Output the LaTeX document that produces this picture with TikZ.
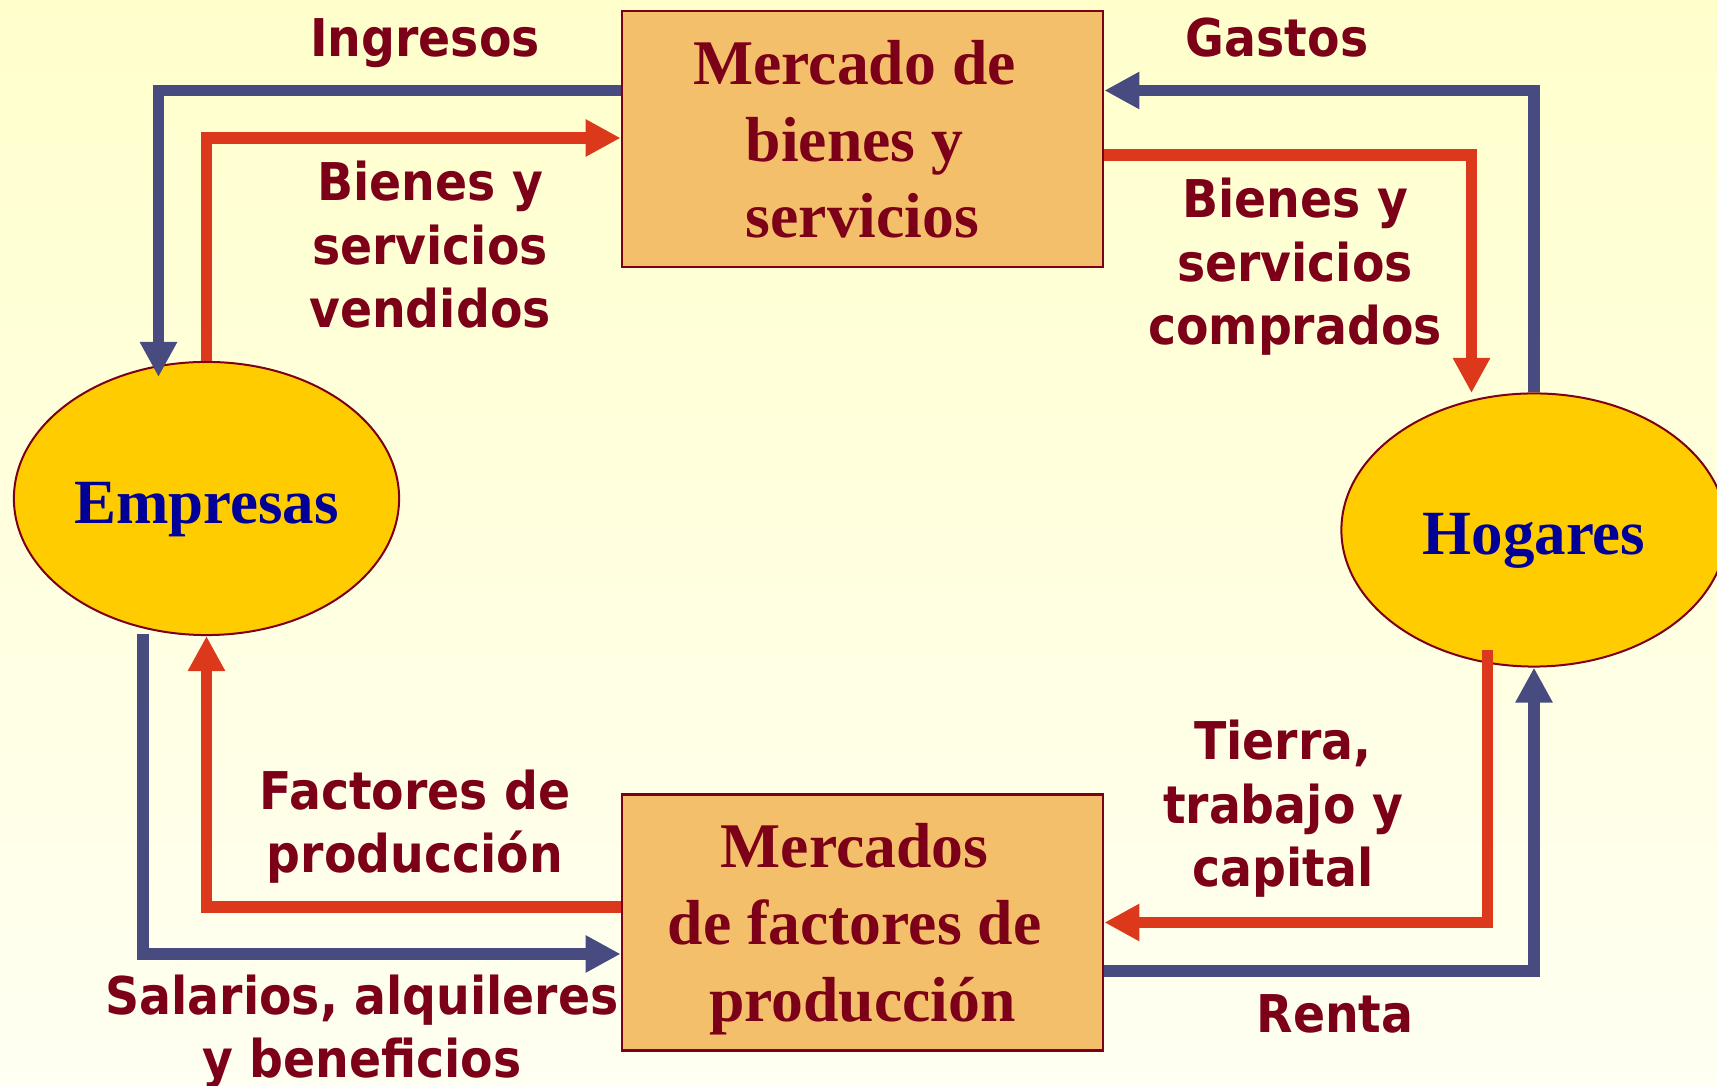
\documentclass[tikz,border=0pt]{standalone}
\usepackage{fontspec}
\usetikzlibrary{arrows.meta,shapes.geometric}
\newfontfamily\labfont{DejaVu Sans}[FakeStretch=0.91]
\newfontfamily\boxfont{Liberation Serif}
\definecolor{txtred}{HTML}{7B0018}
\definecolor{bord}{HTML}{7B0018}
\definecolor{boxfill}{HTML}{F4BF6A}
\definecolor{ellfill}{HTML}{FFCC00}
\definecolor{navytxt}{HTML}{000099}
\definecolor{bluearr}{HTML}{474B80}
\definecolor{redarr}{HTML}{DC381C}
\definecolor{bgtop}{HTML}{FFFFCC}
\definecolor{bgbot}{HTML}{FFFFF2}
\begin{document}
\begin{tikzpicture}[x=0.01cm,y=-0.01cm,
  flowlabel/.style={font=\labfont\bfseries\fontsize{14.8}{18.15}\selectfont, text=txtred, align=center, anchor=base, inner sep=0pt},
  market/.style={draw=bord, line width=0.025cm, fill=boxfill, minimum width=4.81cm, minimum height=2.56cm, inner sep=0pt, align=center, text depth=0pt, font=\boxfont\bfseries\fontsize{18.1}{21.8}\selectfont, text=txtred},
  agent/.style={ellipse, draw=bord, line width=0.02cm, fill=ellfill, minimum width=3.85cm, minimum height=2.73cm, inner sep=0pt, text height=0.49cm, text depth=0cm, font=\boxfont\bfseries\fontsize{17.9}{21.8}\selectfont, text=navytxt},
  flow/.style={line width=0.115cm, line join=miter, -{Triangle[width=0.35cm,length=0.35cm]}},
  money/.style={flow, draw=bluearr, color=bluearr},
  goods/.style={flow, draw=redarr, color=redarr}]
\useasboundingbox (0,0) rectangle (1717,1086);
\clip (0,0) rectangle (1717,1086);
\shade[top color=bgtop, bottom color=bgbot] (0,0) rectangle (1717,1086);

% nodes
\node[market] (M1) at (862.5,139) {Mercado de\kern0.25em\\bienes y\kern0.25em\\servicios};
\node[market] (M2) at (862.5,922.5) {Mercados\kern0.25em\\de factores de\kern0.25em\\producción};
\node[agent] (E) at (206.5,498.5) {Empresas};
\node[agent] (H) at (1534,530) {Hogares};

% levels and free ends
\coordinate (lvA) at (0,90.5);
\coordinate (lvB) at (0,138);
\coordinate (lvC) at (0,155);
\coordinate (lvD) at (0,954);
\coordinate (lvE) at (0,907);
\coordinate (lvF) at (0,922.5);
\coordinate (lvG) at (0,971);
\coordinate (tipIn) at (158.5,377);
\coordinate (tipCo) at (1471.5,393);
\coordinate (startSa) at (143,634);
\coordinate (startTi) at (1487.5,650);

% connectors
\draw[money] (M1.west |- lvA) -| (tipIn);
\draw[goods] (E.north) |- (M1.west |- lvB);
\draw[money] (H.north) |- (M1.east |- lvA);
\draw[goods] (M1.east |- lvC) -| (tipCo);
\draw[money] (startSa) |- (M2.west |- lvD);
\draw[goods] (M2.west |- lvE) -| (E.south);
\draw[goods] (startTi) |- (M2.east |- lvF);
\draw[money] (M2.east |- lvG) -| (H.south);

% labels (anchor = baseline of the last line)
\node[flowlabel] (lIn) at (425,57) {Ingresos};
\node[flowlabel] (lBv) at (430,328) {Bienes y\\servicios\\vendidos};
\node[flowlabel] (lGa) at (1277,57) {Gastos};
\node[flowlabel] (lBc) at (1295,345) {Bienes y\\servicios\\comprados};
\node[flowlabel] (lFa) at (415,873) {Factores de\\producción};
\node[flowlabel] (lSa) at (362,1078) {Salarios, alquileres\\y beneficios};
\node[flowlabel] (lTi) at (1283,887) {Tierra,\\trabajo y\\capital};
\node[flowlabel] (lRe) at (1335,1033) {Renta};
\end{tikzpicture}
\end{document}
